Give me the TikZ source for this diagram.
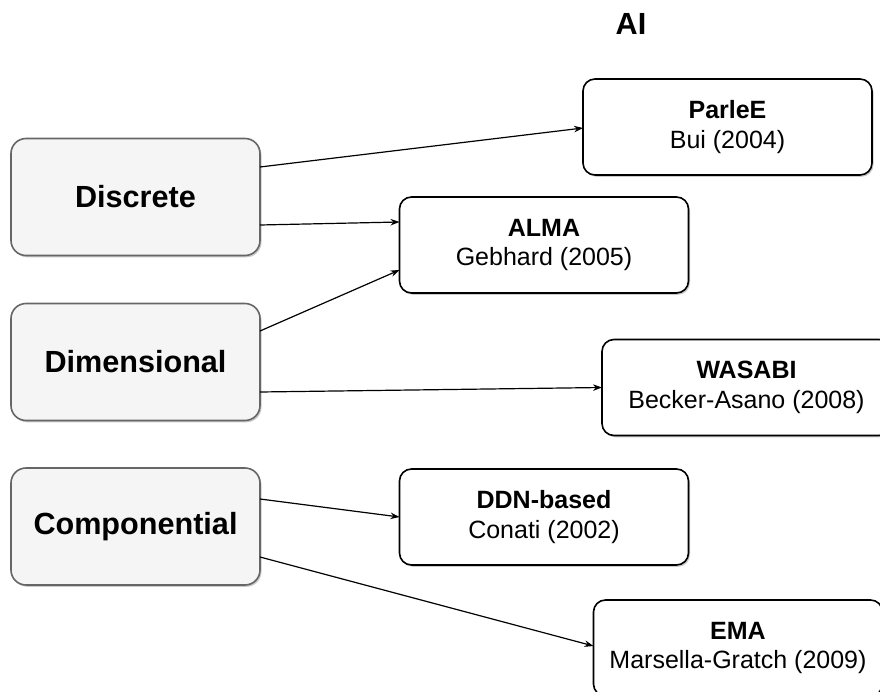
\documentclass[tikz,border=0pt]{standalone}
\usepackage{fontspec}
\setmainfont{Liberation Sans}
\usetikzlibrary{arrows.meta,shadows}
\definecolor{catfill}{HTML}{F5F5F5}
\definecolor{catline}{HTML}{666666}
\tikzset{
  category/.style={draw=catline, fill=catfill, line width=1.6pt, rounded corners=15pt,
    minimum width=249pt, minimum height=117pt, inner sep=0pt, outer sep=0pt,
    font=\fontsize{30.6}{36}\selectfont\bfseries,
    drop shadow={shadow xshift=1.5pt, shadow yshift=-1.8pt, opacity=0.35, fill=black!60}},
  model/.style={draw=black, fill=white, line width=1.6pt, rounded corners=12pt,
    minimum width=289pt, minimum height=96pt, inner sep=0pt, outer sep=0pt,
    align=center, font=\fontsize{25}{29.5}\selectfont,
    drop shadow={shadow xshift=1.5pt, shadow yshift=-1.8pt, opacity=0.35, fill=black!60}},
  link/.style={draw=black, line width=1.2pt, -{Stealth[length=9pt,width=6.5pt]}}
}
\begin{document}
\begin{tikzpicture}[x=1pt, y=-1pt]
  \useasboundingbox (0,0) rectangle (880,692);
  \clip (0,0) rectangle (880,692);

  % heading
  \node[font=\fontsize{30.6}{36}\selectfont\bfseries] (title) at (631,24) {AI};

  % emotion model categories
  \node[category] (disc) at (135.5,197)   {Discrete};
  \node[category] (dim)  at (135.5,362)   {Dimensional};
  \node[category] (comp) at (135.5,526.5) {Componential};

  % computational models
  \node[model] (parlee) at (727.5,127) {\textbf{ParleE}\\Bui (2004)};
  \node[model] (alma)   at (544,245)   {\textbf{ALMA}\\Gebhard (2005)};
  \node[model] (wasabi) at (746.5,387.5) {\textbf{WASABI}\\Becker-Asano (2008)};
  \node[model] (ddn)    at (544,517)   {\textbf{DDN-based}\\Conati (2002)};
  \node[model] (ema)    at (738,648)   {\textbf{EMA}\\Marsella-Gratch (2009)};

  % category -> model links
  \draw[link] ([yshift=30pt]disc.east)  -- ([yshift=-1pt]parlee.west);
  \draw[link] ([yshift=-28pt]disc.east) -- ([yshift=23pt]alma.west);
  \draw[link] ([yshift=31pt]dim.east)   -- ([yshift=-25pt]alma.west);
  \draw[link] ([yshift=-30pt]dim.east)  -- (wasabi.west);
  \draw[link] ([yshift=27.5pt]comp.east) -- (ddn.west);
  \draw[link] ([yshift=-30.5pt]comp.east) -- ([yshift=2pt]ema.west);
\end{tikzpicture}
\end{document}
